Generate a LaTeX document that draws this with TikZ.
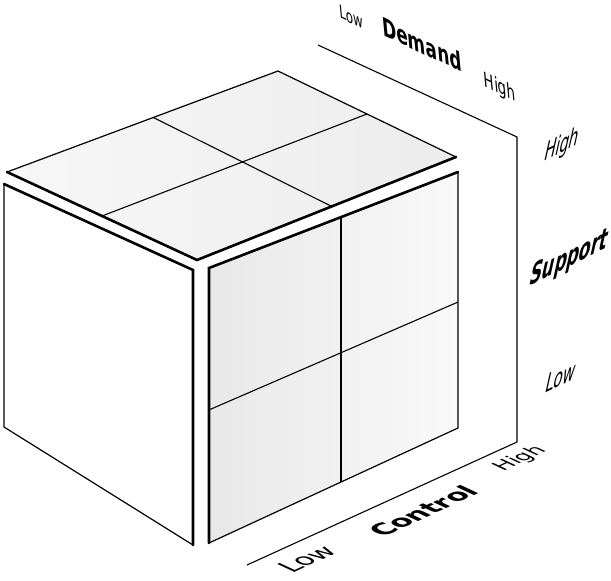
\documentclass[tikz,border=0pt]{standalone}
\usepackage{fontspec}
\setmainfont{DejaVu Sans}
\usetikzlibrary{calc}
\definecolor{toplight}{RGB}{247,247,247}
\definecolor{topdark}{RGB}{236,236,236}
\definecolor{sidelight}{RGB}{249,249,249}
\definecolor{sidedark}{RGB}{232,232,232}

\begin{document}
\begin{tikzpicture}[x=1pt, y=-1pt,
    thinedge/.style={line width=1.2pt, line cap=round},
    thickedge/.style={line width=2.6pt, line cap=round},
    gridline/.style={line width=1.1pt},
    axisline/.style={line width=1.1pt, line join=miter},
    lowhigh/.style={inner sep=0pt, font=\fontsize{16}{16}\selectfont},
    axisname/.style={inner sep=0pt, font=\bfseries\fontsize{20}{20}\selectfont},
    backwall/.style={cm={0.85,-0.4,-0.12,1.3,(0,0)}},
    sidewall/.style={cm={0.74,0.36,0.3,1.35,(0,0)}},
    floorplane/.style={cm={0.906,0.423,-0.906,0.423,(0,0)}}]
  \useasboundingbox (0,0) rectangle (611,581);

  % corners of the cube
  \coordinate (tl) at (7,172);
  \coordinate (tb) at (278,71);
  \coordinate (tr) at (456,157);
  \coordinate (tf) at (197,260);
  \coordinate (ltl) at (4,184);
  \coordinate (ltr) at (193,270);
  \coordinate (lbr) at (193,545);
  \coordinate (lbl) at (4,427);
  \coordinate (rtl) at (209,268);
  \coordinate (rtr) at (458,172);
  \coordinate (rbr) at (458,428);
  \coordinate (rbl) at (209,543);
  % axis frame
  \coordinate (d0) at (318,45);
  \coordinate (d1) at (517,137);
  \coordinate (c1) at (517,442);
  \coordinate (c0) at (247,565);

  % top face
  \shade[left color=toplight, right color=topdark] (tl) -- (tb) -- (tr) -- (tf) -- cycle;
  \draw[gridline] ($(tl)!0.54!(tb)$) -- ($(tf)!0.52!(tr)$);
  \draw[gridline] ($(tl)!0.5!(tf)$) -- ($(tb)!0.5!(tr)$);
  \draw[thinedge] (tl) -- (tb) -- (tr);
  \draw[thickedge] (tl) -- (tf) -- (tr);

  % left face
  \fill[white] (ltl) -- (ltr) -- (lbr) -- (lbl) -- cycle;
  \draw[thinedge] (ltl) -- (lbl) -- (lbr);
  \draw[thickedge] (ltl) -- (ltr) -- (lbr);

  % right face
  \shade[left color=sidedark, right color=sidelight] (rtl) -- (rtr) -- (rbr) -- (rbl) -- cycle;
  \draw[gridline] ($(rtl)!0.53!(rtr)$) -- ($(rbl)!0.53!(rbr)$);
  \draw[gridline] ($(rtl)!0.516!(rbl)$) -- ($(rtr)!0.508!(rbr)$);
  \draw[thinedge] (rtr) -- (rbr) -- (rbl);
  \draw[thickedge] (rbl) -- (rtl) -- (rtr);

  % axes
  \draw[axisline] (d0) -- (d1) -- (c1) -- (c0);

  \node[lowhigh, backwall, font=\fontsize{14}{14}\selectfont] (lowdemand) at (351,17) {Low};
  \node[axisname, backwall] (demand) at (422,44) {Demand};
  \node[lowhigh, backwall] (highdemand) at (500,88) {High};

  \node[lowhigh, sidewall, font=\fontsize{20}{20}\selectfont] (highsupport) at (562,146) {High};
  \node[axisname, sidewall, font=\bfseries\fontsize{23}{23}\selectfont] (support) at (569,259) {Support};
  \node[lowhigh, sidewall, font=\fontsize{20}{20}\selectfont] (lowsupport) at (561,377) {Low};

  \node[lowhigh, floorplane, font=\fontsize{26}{26}\selectfont] (lowcontrol) at (307,559) {Low};
  \node[axisname, floorplane, font=\bfseries\fontsize{26}{26}\selectfont] (control) at (423,511) {Control};
  \node[lowhigh, floorplane, font=\fontsize{21}{21}\selectfont] (highcontrol) at (520,459) {High};
\end{tikzpicture}
\end{document}
